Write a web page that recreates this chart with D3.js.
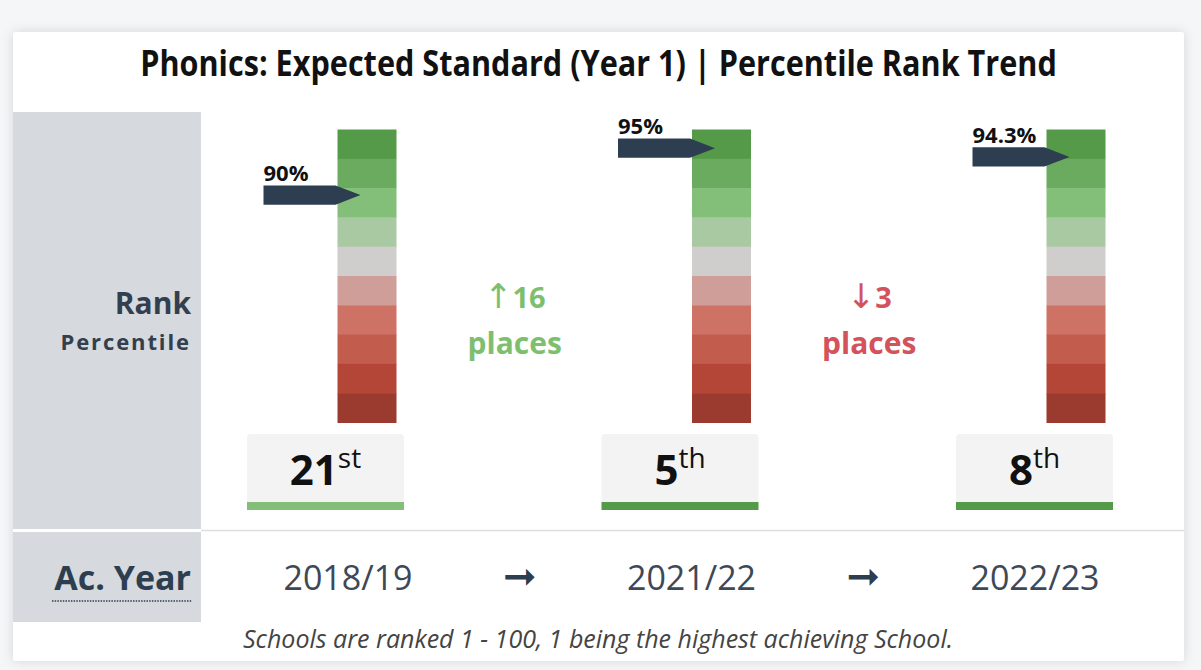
<!DOCTYPE html>
<html>
<head>
<meta charset="utf-8">
<script src="https://cdn.jsdelivr.net/npm/d3@7"></script>
<style>
  html, body { margin: 0; padding: 0; background: #f5f6f8; }
  svg { display: block; font-family: "Open Sans", "DejaVu Sans", sans-serif; }
</style>
</head>
<body>
<div id="chart"></div>
<script>
var title = "Phonics: Expected Standard (Year 1) | Percentile Rank Trend";
var years = ["2018/19", "2021/22", "2022/23"];
var ranks = [21, 5, 8];
var suffixes = ["st", "th", "th"];
var percentiles = ["90%", "95%", "94.3%"];
var changes = [16, -3];
// top -> bottom of the rank column
var bandColors = ["#559a48", "#6aab5f", "#83bf78", "#a9c9a3", "#d0cecd",
                  "#d09e98", "#cf7266", "#c25c4d", "#b44637", "#9b3a2f"];
var footnote = "Schools are ranked 1 - 100, 1 being the highest achieving School.";

var W = 1201, H = 670;
var card = { x: 13, y: 32, w: 1171, h: 629 };
var barTop = 129.5, barBottom = 422.5;

var svg = d3.select("#chart").append("svg")
  .attr("width", W)
  .attr("height", H);

var defs = svg.append("defs");
var shadow = defs.append("filter").attr("id", "shadow")
  .attr("x", "-5%").attr("y", "-5%").attr("width", "110%").attr("height", "110%");
shadow.append("feDropShadow")
  .attr("dx", 0).attr("dy", 0).attr("stdDeviation", 6)
  .attr("flood-color", "#000").attr("flood-opacity", 0.13);

svg.append("rect")
  .attr("x", card.x).attr("y", card.y)
  .attr("width", card.w).attr("height", card.h)
  .attr("rx", 3)
  .attr("fill", "#fff")
  .attr("filter", "url(#shadow)");

// title is a condensed face in the original, squeeze it horizontally
var titleText = svg.append("text")
  .attr("x", 0).attr("y", 0)
  .attr("text-anchor", "middle")
  .attr("font-size", 36)
  .attr("font-weight", 700)
  .attr("fill", "#111")
  .text(title);
var tw = titleText.node().getComputedTextLength();
titleText.attr("transform", "translate(598.5,76) scale(" + (917 / tw) + ",1)");

// left header panel
svg.append("rect").attr("x", card.x).attr("y", 112).attr("width", 188).attr("height", 417).attr("fill", "#d6d9dd");
svg.append("rect").attr("x", card.x).attr("y", 532).attr("width", 188).attr("height", 90).attr("fill", "#d6d9dd");
svg.append("line")
  .attr("x1", 201).attr("x2", card.x + card.w)
  .attr("y1", 530.5).attr("y2", 530.5)
  .attr("stroke", "#dedfe1").attr("stroke-width", 1.5);

svg.append("text")
  .attr("x", 191).attr("y", 314)
  .attr("text-anchor", "end")
  .attr("font-size", 30).attr("font-weight", 700)
  .attr("fill", "#333f4f")
  .text("Rank");
svg.append("text")
  .attr("x", 191).attr("y", 350)
  .attr("text-anchor", "end")
  .attr("font-size", 22).attr("font-weight", 700)
  .attr("letter-spacing", 1.9)
  .attr("fill", "#333f4f")
  .text("Percentile");
svg.append("text")
  .attr("x", 191).attr("y", 590)
  .attr("text-anchor", "end")
  .attr("font-size", 34).attr("font-weight", 700)
  .attr("fill", "#2d3e50")
  .text("Ac. Year");
svg.append("line")
  .attr("x1", 52).attr("x2", 192)
  .attr("y1", 601).attr("y2", 601)
  .attr("stroke", "#2d3e50").attr("stroke-width", 1.5)
  .attr("stroke-dasharray", "1.5,1.2");

// scales
var x = d3.scalePoint().domain(years).range([325.5, 1034.5]);
var y = d3.scaleLinear().domain([0, 100]).range([barTop, barBottom]);
var band = d3.scaleBand().domain(d3.range(bandColors.length)).range([barTop, barBottom]);

var cols = years.map(function(year, i) {
  return { year: year, rank: ranks[i], suffix: suffixes[i], pct: percentiles[i], i: i };
});

var col = svg.selectAll("g.col").data(cols).enter()
  .append("g")
    .attr("class", "col")
    .attr("transform", function(d) { return "translate(" + x(d.year) + ",0)"; });

// coloured rank column
col.selectAll("rect.band").data(bandColors.map(function(c, i) { return { c: c, i: i }; })).enter()
  .append("rect")
    .attr("class", "band")
    .attr("x", 12).attr("width", 59)
    .attr("y", function(d) { return band(d.i); })
    .attr("height", band.bandwidth() + 0.5)
    .attr("fill", function(d) { return d.c; });

// pointer arrow
col.append("path")
  .attr("fill", "#2d3e50")
  .attr("d", function(d) {
    var cy = y(d.rank) + 4, h = 9.6;
    return "M-62," + (cy - h) + "H10L35," + cy + "L10," + (cy + h) + "H-62Z";
  });
col.append("text")
  .attr("x", -62)
  .attr("y", function(d) { return y(d.rank) + 4 - 9.6 - 4.5; })
  .attr("font-size", 22).attr("font-weight", 700)
  .attr("fill", "#111")
  .text(function(d) { return d.pct; });

// rank box
col.append("rect")
  .attr("x", -78.5).attr("y", 434)
  .attr("width", 157).attr("height", 76)
  .attr("rx", 4)
  .attr("fill", "#f3f3f3");
col.append("rect")
  .attr("x", -78.5).attr("y", 502)
  .attr("width", 157).attr("height", 8)
  .attr("fill", function(d) { return d.i === 0 ? "#83bf78" : "#559a48"; });
var rt = col.append("text")
  .attr("x", 0).attr("y", 485)
  .attr("text-anchor", "middle")
  .attr("fill", "#111");
rt.append("tspan")
  .attr("font-size", 42).attr("font-weight", 700)
  .text(function(d) { return d.rank; });
rt.append("tspan")
  .attr("font-size", 28).attr("font-weight", 400)
  .attr("dy", -17)
  .text(function(d) { return d.suffix; });

// change between years
var ch = svg.selectAll("g.change").data(changes).enter()
  .append("g")
    .attr("class", "change")
    .attr("transform", function(d, i) {
      return "translate(" + ((x(years[i]) + x(years[i + 1])) / 2 + 12) + ",0)";
    })
    .attr("fill", function(d) { return d > 0 ? "#7dbf6f" : "#d3525b"; })
    .attr("font-weight", 700)
    .attr("text-anchor", "middle");
var chTop = ch.append("text").attr("y", 308).attr("font-size", 29);
chTop.append("tspan")
  .attr("font-family", "DejaVu Sans")
  .attr("font-weight", 400)
  .attr("font-size", 34)
  .text(function(d) { return d > 0 ? "\u2191" : "\u2193"; });
chTop.append("tspan")
  .text(function(d) { return Math.abs(d); });
ch.append("text")
  .attr("y", 354).attr("font-size", 30)
  .text("places");

// academic year row
var rowItems = [];
years.forEach(function(yr, i) {
  if (i > 0) rowItems.push("arrow" + i);
  rowItems.push(yr);
});
var xRow = d3.scalePoint().domain(rowItems).range([348, 1035]);

svg.selectAll("text.year").data(rowItems).enter()
  .append("text")
    .attr("class", "year")
    .attr("x", function(d) { return xRow(d); })
    .attr("y", 590)
    .attr("text-anchor", "middle")
    .attr("font-size", function(d) { return d.indexOf("arrow") === 0 ? 40 : 34; })
    .attr("font-family", function(d) { return d.indexOf("arrow") === 0 ? "DejaVu Sans" : null; })
    .attr("fill", function(d) { return d.indexOf("arrow") === 0 ? "#2d3e50" : "#3e4856"; })
    .text(function(d) { return d.indexOf("arrow") === 0 ? "\u279E" : d; });

svg.append("text")
  .attr("x", 598).attr("y", 648)
  .attr("text-anchor", "middle")
  .attr("font-size", 25)
  .attr("font-style", "italic")
  .attr("fill", "#444")
  .text(footnote);
</script>
</body>
</html>
